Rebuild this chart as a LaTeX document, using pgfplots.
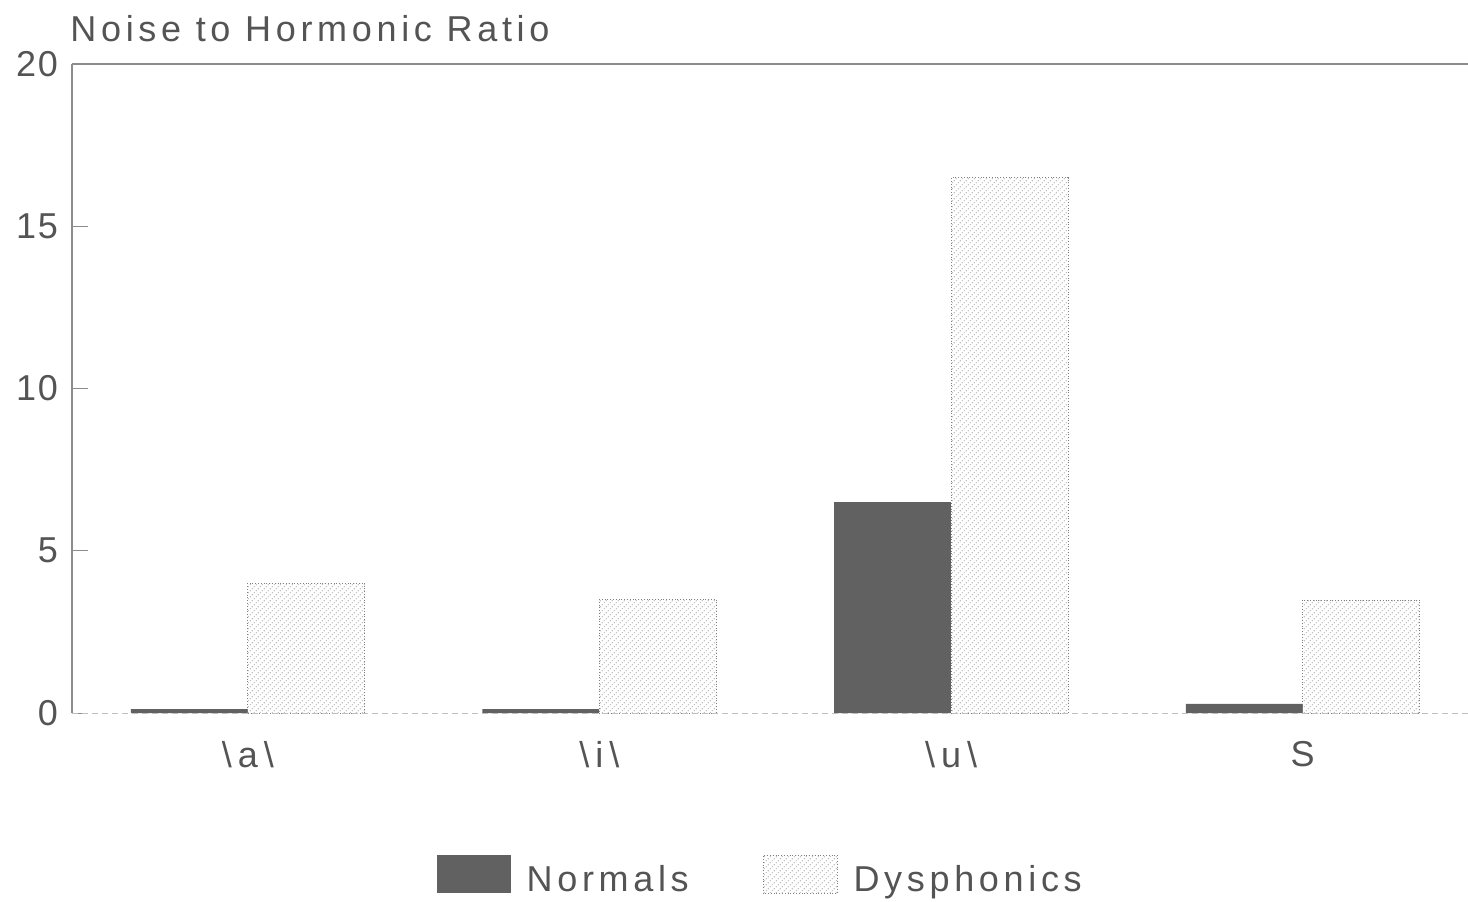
\documentclass[border=0pt]{standalone}
\usepackage{fontspec}
\setmainfont{Liberation Sans}[LetterSpace=13]
\newfontfamily\numfont{Liberation Sans}[LetterSpace=5]
\usepackage{pgfplots}
\pgfplotsset{compat=1.18}
\usetikzlibrary{patterns,calc}
\newcommand\cf{\fontsize{18}{21}\selectfont}
\definecolor{txt}{gray}{0.33}
\definecolor{dark}{gray}{0.38}
\begin{document}
\begin{tikzpicture}
\begin{axis}[
  scale only axis, width=698pt, height=324.5pt,
  xmin=-0.5, xmax=3.47, ymin=0, ymax=20,
  enlargelimits=false, clip=false,
  ybar=0pt, bar width=58.5pt,
  axis line style={draw=none},
  xtick=data,
  xticklabels={\textbackslash\kern3pt a\kern3pt\textbackslash, \textbackslash\kern3pt i\kern3pt\textbackslash, \textbackslash\kern3pt u\kern3pt\textbackslash, S},
  ytick={0,5,10,15,20},
  tick align=inside, ytick pos=left,
  major tick length=8pt,
  x tick style={draw=none},
  y tick style={black!45, line width=0.5pt},
  /pgf/number format/assume math mode=true,
  tick label style={font=\cf, text=txt},
  yticklabel style={font=\cf\numfont, xshift=-3.5pt},
  xticklabel style={yshift=-10.5pt},
  legend style={at={(0.4937,-0.2525)}, anchor=center, draw=none, fill=none,
    legend columns=2, font=\cf, text=txt,
    /tikz/every even column/.append style={column sep=35pt}},
]
\addplot[fill=dark, draw=none,
  legend image code/.code={\fill[dark] (0pt,-6.5pt) rectangle (37pt,12.5pt); \path (43pt,0pt);}]
  coordinates {(0,0.12) (1,0.12) (2,6.5) (3,0.28)};
\addlegendentry{Normals}
\addplot[fill=white, postaction={pattern=north east lines, pattern color=black!32}, draw=black!50, densely dotted,
  legend image code/.code={\draw[black!50, densely dotted, fill=white] (0pt,-6.5pt) rectangle (37pt,12.5pt); \path (43pt,0pt);}]
  coordinates {(0,4.0) (1,3.5) (2,16.5) (3,3.48)};
\addlegendentry{Dysphonics}
\draw[black!45, line width=0.6pt] (rel axis cs:0,0) -- (rel axis cs:0,1);
\draw[black!45, line width=0.6pt] (rel axis cs:0,1) -- (rel axis cs:1,1);
\draw[black!25, line width=0.5pt, densely dashed] (rel axis cs:0,0) -- (rel axis cs:1,0);
\node[anchor=base west, font=\cf, text=txt, inner sep=0pt, xshift=-1pt, yshift=11.5pt] at (rel axis cs:0,1) {Noise to Hormonic Ratio};
\coordinate (BL) at (rel axis cs:0,0);
\coordinate (TR) at (rel axis cs:1,1);
\end{axis}
\pgfresetboundingbox
\path[use as bounding box] ($(BL)+(-36pt,-94pt)$) rectangle ($(TR)+(0pt,32pt)$);
\end{tikzpicture}
\end{document}
